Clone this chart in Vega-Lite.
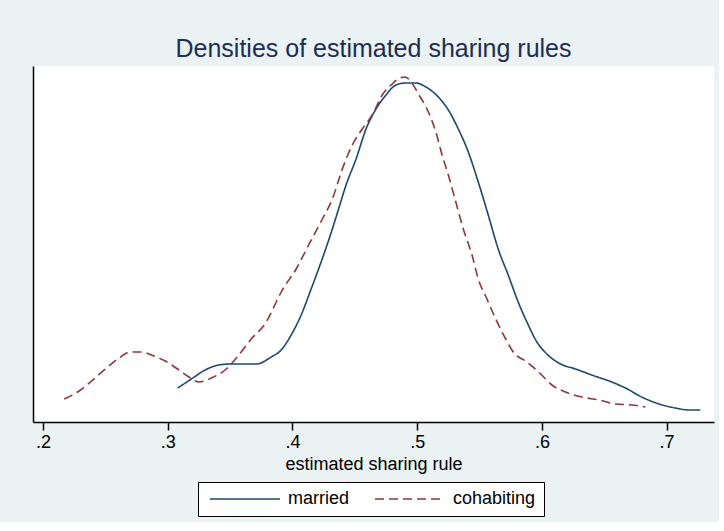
{
  "$schema": "https://vega.github.io/schema/vega-lite/v6.json",
  "background": "#EAF2F3",
  "padding": {"left": 33, "top": 37, "right": 5, "bottom": 5},
  "width": 681,
  "height": 356,
  "title": {
    "text": "Densities of estimated sharing rules",
    "fontSize": 25,
    "font": "Liberation Sans",
    "fontWeight": "normal",
    "color": "#1E2D53",
    "anchor": "middle",
    "offset": 4
  },
  "data": {
    "values": [
      {"group": "married", "x": 0.308, "d": 0.85},
      {"group": "married", "x": 0.319, "d": 1.075},
      {"group": "married", "x": 0.330, "d": 1.3},
      {"group": "married", "x": 0.341, "d": 1.425},
      {"group": "married", "x": 0.351, "d": 1.45},
      {"group": "married", "x": 0.371, "d": 1.45},
      {"group": "married", "x": 0.383, "d": 1.625},
      {"group": "married", "x": 0.391, "d": 1.8},
      {"group": "married", "x": 0.399, "d": 2.175},
      {"group": "married", "x": 0.407, "d": 2.675},
      {"group": "married", "x": 0.415, "d": 3.325},
      {"group": "married", "x": 0.423, "d": 4.0},
      {"group": "married", "x": 0.432, "d": 4.825},
      {"group": "married", "x": 0.437, "d": 5.325},
      {"group": "married", "x": 0.443, "d": 5.925},
      {"group": "married", "x": 0.451, "d": 6.575},
      {"group": "married", "x": 0.459, "d": 7.325},
      {"group": "married", "x": 0.467, "d": 7.825},
      {"group": "married", "x": 0.475, "d": 8.175},
      {"group": "married", "x": 0.483, "d": 8.425},
      {"group": "married", "x": 0.491, "d": 8.475},
      {"group": "married", "x": 0.499, "d": 8.475},
      {"group": "married", "x": 0.507, "d": 8.375},
      {"group": "married", "x": 0.517, "d": 8.125},
      {"group": "married", "x": 0.525, "d": 7.8},
      {"group": "married", "x": 0.533, "d": 7.325},
      {"group": "married", "x": 0.541, "d": 6.75},
      {"group": "married", "x": 0.549, "d": 6.0},
      {"group": "married", "x": 0.557, "d": 5.175},
      {"group": "married", "x": 0.565, "d": 4.325},
      {"group": "married", "x": 0.573, "d": 3.675},
      {"group": "married", "x": 0.581, "d": 3.0},
      {"group": "married", "x": 0.588, "d": 2.5},
      {"group": "married", "x": 0.596, "d": 2.0},
      {"group": "married", "x": 0.604, "d": 1.7},
      {"group": "married", "x": 0.615, "d": 1.45},
      {"group": "married", "x": 0.627, "d": 1.325},
      {"group": "married", "x": 0.640, "d": 1.175},
      {"group": "married", "x": 0.656, "d": 1.0},
      {"group": "married", "x": 0.667, "d": 0.85},
      {"group": "married", "x": 0.680, "d": 0.625},
      {"group": "married", "x": 0.694, "d": 0.45},
      {"group": "married", "x": 0.707, "d": 0.35},
      {"group": "married", "x": 0.718, "d": 0.3},
      {"group": "married", "x": 0.727, "d": 0.3},
      {"group": "cohabiting", "x": 0.217, "d": 0.575},
      {"group": "cohabiting", "x": 0.229, "d": 0.775},
      {"group": "cohabiting", "x": 0.239, "d": 1.025},
      {"group": "cohabiting", "x": 0.250, "d": 1.325},
      {"group": "cohabiting", "x": 0.261, "d": 1.6},
      {"group": "cohabiting", "x": 0.270, "d": 1.75},
      {"group": "cohabiting", "x": 0.279, "d": 1.75},
      {"group": "cohabiting", "x": 0.289, "d": 1.65},
      {"group": "cohabiting", "x": 0.298, "d": 1.525},
      {"group": "cohabiting", "x": 0.309, "d": 1.3},
      {"group": "cohabiting", "x": 0.317, "d": 1.125},
      {"group": "cohabiting", "x": 0.325, "d": 1.0},
      {"group": "cohabiting", "x": 0.335, "d": 1.1},
      {"group": "cohabiting", "x": 0.347, "d": 1.325},
      {"group": "cohabiting", "x": 0.357, "d": 1.675},
      {"group": "cohabiting", "x": 0.367, "d": 2.075},
      {"group": "cohabiting", "x": 0.379, "d": 2.5},
      {"group": "cohabiting", "x": 0.387, "d": 3.0},
      {"group": "cohabiting", "x": 0.391, "d": 3.25},
      {"group": "cohabiting", "x": 0.403, "d": 3.825},
      {"group": "cohabiting", "x": 0.413, "d": 4.425},
      {"group": "cohabiting", "x": 0.424, "d": 5.075},
      {"group": "cohabiting", "x": 0.432, "d": 5.575},
      {"group": "cohabiting", "x": 0.440, "d": 6.325},
      {"group": "cohabiting", "x": 0.448, "d": 6.925},
      {"group": "cohabiting", "x": 0.456, "d": 7.325},
      {"group": "cohabiting", "x": 0.464, "d": 7.675},
      {"group": "cohabiting", "x": 0.472, "d": 8.175},
      {"group": "cohabiting", "x": 0.480, "d": 8.45},
      {"group": "cohabiting", "x": 0.486, "d": 8.6},
      {"group": "cohabiting", "x": 0.490, "d": 8.625},
      {"group": "cohabiting", "x": 0.494, "d": 8.55},
      {"group": "cohabiting", "x": 0.501, "d": 8.2},
      {"group": "cohabiting", "x": 0.509, "d": 7.75},
      {"group": "cohabiting", "x": 0.515, "d": 7.25},
      {"group": "cohabiting", "x": 0.520, "d": 6.675},
      {"group": "cohabiting", "x": 0.525, "d": 6.175},
      {"group": "cohabiting", "x": 0.531, "d": 5.5},
      {"group": "cohabiting", "x": 0.537, "d": 4.825},
      {"group": "cohabiting", "x": 0.544, "d": 4.175},
      {"group": "cohabiting", "x": 0.549, "d": 3.575},
      {"group": "cohabiting", "x": 0.556, "d": 3.075},
      {"group": "cohabiting", "x": 0.563, "d": 2.575},
      {"group": "cohabiting", "x": 0.571, "d": 2.075},
      {"group": "cohabiting", "x": 0.577, "d": 1.75},
      {"group": "cohabiting", "x": 0.588, "d": 1.5},
      {"group": "cohabiting", "x": 0.599, "d": 1.2},
      {"group": "cohabiting", "x": 0.608, "d": 0.925},
      {"group": "cohabiting", "x": 0.619, "d": 0.75},
      {"group": "cohabiting", "x": 0.632, "d": 0.625},
      {"group": "cohabiting", "x": 0.646, "d": 0.55},
      {"group": "cohabiting", "x": 0.659, "d": 0.45},
      {"group": "cohabiting", "x": 0.672, "d": 0.425},
      {"group": "cohabiting", "x": 0.683, "d": 0.375}
    ]
  },
  "mark": {"type": "line", "strokeWidth": 1.6, "interpolate": "monotone", "clip": true},
  "encoding": {
    "x": {
      "field": "x",
      "type": "quantitative",
      "scale": {"domain": [0.192, 0.738], "nice": false, "zero": false},
      "axis": {
        "title": "estimated sharing rule",
        "values": [0.2, 0.3, 0.4, 0.5, 0.6, 0.7],
        "labelExpr": "substring(format(datum.value, '.1f'), 1)",
        "grid": false,
        "domainColor": "#000000",
        "domainWidth": 1.5,
        "tickColor": "#000000",
        "tickWidth": 1.5,
        "tickSize": 8,
        "labelFontSize": 18,
        "labelColor": "#000000",
        "labelFont": "Liberation Sans",
        "labelPadding": 3,
        "titleFontSize": 18,
        "titleFont": "Liberation Sans",
        "titleFontWeight": "normal",
        "titleColor": "#000000",
        "titlePadding": 4
      }
    },
    "y": {
      "field": "d",
      "type": "quantitative",
      "scale": {"domain": [0, 8.9], "nice": false},
      "axis": {
        "title": null,
        "labels": false,
        "ticks": false,
        "grid": false,
        "domainColor": "#000000",
        "domainWidth": 1.5,
        "minExtent": 0,
        "maxExtent": 0
      }
    },
    "color": {
      "field": "group",
      "type": "nominal",
      "scale": {"domain": ["married", "cohabiting"], "range": ["#1A476F", "#90353B"]},
      "legend": {
        "title": null,
        "orient": "none",
        "legendX": 165,
        "legendY": 416,
        "direction": "horizontal",
        "symbolType": "M-1,0H13",
        "symbolSize": 100,
        "symbolStrokeWidth": 1.5,
        "labelFontSize": 18,
        "labelFont": "Liberation Sans",
        "labelColor": "#000000",
        "labelOffset": 64,
        "columnPadding": 21,
        "padding": 8,
        "strokeColor": "#000000",
        "fillColor": "#FFFFFF",
        "cornerRadius": 0
      }
    },
    "strokeDash": {
      "field": "group",
      "type": "nominal",
      "scale": {"domain": ["married", "cohabiting"], "range": [[1, 0], [9, 5]]},
      "legend": null
    }
  },
  "config": {
    "view": {"stroke": null, "fill": "#FFFFFF"}
  }
}
